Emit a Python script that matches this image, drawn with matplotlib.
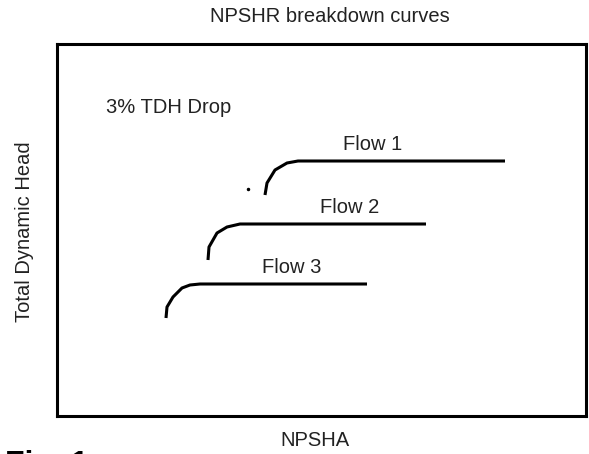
import matplotlib
matplotlib.use('Agg')
import matplotlib.pyplot as plt

# curve points (NPSHA, TDH in picture units)
flow1_x = [265, 267, 275, 287, 298, 505]
flow1_y = [195, 183, 170, 163, 161, 161]
flow2_x = [208, 209, 217, 227, 240, 426]
flow2_y = [260, 247, 233, 227, 224, 224]
flow3_x = [166, 167, 173, 182, 190, 200, 367]
flow3_y = [318, 307, 297, 288, 285, 284, 284]
dot_x, dot_y = 248, 189
labels = ['Flow 1', 'Flow 2', 'Flow 3']
label_pos = [(373, 145), (350, 208), (292, 268)]

fs = 14.5
plt.rcParams['font.family'] = ['Liberation Sans', 'DejaVu Sans']
fig = plt.figure(figsize=(5.89, 4.54), dpi=100)
ax = fig.add_axes([57/589, 1-416/454, (586-57)/589, (416-44)/454])
ax.set_xlim(57, 586)
ax.set_ylim(416, 44)
ax.set_xticks([])
ax.set_yticks([])
for s in ax.spines.values():
    s.set_linewidth(2.2)

for xs, ys in [(flow1_x, flow1_y), (flow2_x, flow2_y), (flow3_x, flow3_y)]:
    ax.plot(xs, ys, color='black', lw=2.2, solid_capstyle='butt')
ax.plot(dot_x, dot_y, 'k.', markersize=3)

for lab, (x, y) in zip(labels, label_pos):
    ax.text(x, y, lab, ha='center', va='center', fontsize=fs, color='#222')
ax.text(106, 108, '3% TDH Drop', ha='left', va='center', fontsize=fs, color='#222')

fig.text(330/589, 1-16/454, 'NPSHR breakdown curves', ha='center', va='center',
         fontsize=fs, color='#222')
fig.text(315/589, 1-440/454, 'NPSHA', ha='center', va='center',
         fontsize=fs, color='#222')
fig.text(25/589, 1-232/454, 'Total Dynamic Head', ha='center', va='center',
         rotation=90, fontsize=fs, color='#222')
fig.text(5/589, 1-450/454, 'Fig. 1', ha='left', va='top',
         fontsize=23, fontweight='bold')

fig.savefig('out.png', dpi=100)
